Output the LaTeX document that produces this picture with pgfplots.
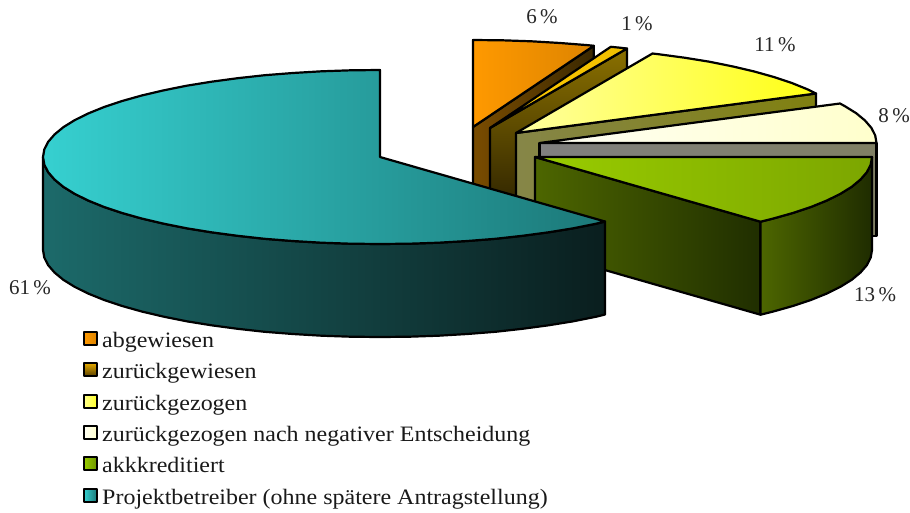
\documentclass[border=0pt]{standalone}
\usepackage{fontspec}
\setmainfont{Liberation Serif}
\usepackage{pgfplots}
\pgfplotsset{compat=1.18}
\tikzset{lab/.style={font=\fontsize{21}{21}\selectfont,text=black!85,inner sep=0pt},
  leg/.style={font=\fontsize{22}{22}\selectfont,anchor=base west,inner sep=0pt,text=black!90,xscale=1.09}}
\begin{document}
\begin{tikzpicture}
\begin{axis}[name=a,width=910pt,height=512pt,scale only axis,xmin=0,xmax=910,ymin=0,ymax=512,y dir=reverse,hide axis,clip=false,
  every axis plot/.append style={line width=2.2pt,line join=round,draw=black}]
% orange
\addplot[left color={rgb,255:red,122;green,76;blue,0},right color={rgb,255:red,58;green,40;blue,0}] coordinates {(473,127)(593.8,45.8)(593.8,138.8)(473,220)} --cycle;
\addplot[left color={rgb,255:red,255;green,153;blue,0},right color={rgb,255:red,221;green,132;blue,0}] coordinates {(473,127)(473,40)(502.4,40.3)(531.5,41.3)(560.2,43)(588.3,45.2)(593.8,45.8)} --cycle;
% 1 percent
\addplot[top color={rgb,255:red,138;green,112;blue,0},bottom color={rgb,255:red,40;green,30;blue,0}] coordinates {(490,128)(627,48.5)(627,141.5)(490,221)} --cycle;
\addplot[left color={rgb,255:red,255;green,204;blue,0},right color={rgb,255:red,240;green,190;blue,0}] coordinates {(490,128)(610.8,46.8)(619,47.6)(627,48.5)} --cycle;
% yellow
\addplot[left color={rgb,255:red,134;green,134;blue,72},right color={rgb,255:red,128;green,128;blue,16}] coordinates {(516,133)(816,93.5)(816,186.5)(516,226)} --cycle;
\addplot[left color={rgb,255:red,255;green,255;blue,160},right color={rgb,255:red,255;green,255;blue,20}] coordinates {(516,133)(816,93.5)(807.9,89.5)(792.1,83.1)(774.2,77.1)(754.3,71.5)(732.6,66.4)(709.3,61.7)(684.5,57.7)(658.4,54.2)(652.5,53.5)} --cycle;
% cream
\addplot[left color={rgb,255:red,128;green,128;blue,128},right color={rgb,255:red,128;green,128;blue,100}] coordinates {(539.5,143)(876.5,143)(876.5,236)(539.5,236)} --cycle;
\addplot[left color={rgb,255:red,255;green,255;blue,245},right color={rgb,255:red,255;green,255;blue,204}] coordinates {(539.5,143)(876.5,143)(875.2,135.4)(871.4,127.9)(865,120.5)(856.2,113.2)(844.9,106.2)(840,103.5)} --cycle;
% green
\addplot[left color={rgb,255:red,77;green,102;blue,0},right color={rgb,255:red,32;green,46;blue,0}] coordinates {(535,157)(760.5,221.7)(760.5,314.7)(535,250)} --cycle;
\addplot[left color={rgb,255:red,77;green,102;blue,0},right color={rgb,255:red,31;green,44;blue,0}] coordinates {(872,157)(870.7,164.6)(866.9,172.1)(860.5,179.5)(851.7,186.8)(840.4,193.8)(826.9,200.5)(811.1,206.9)(793.2,212.9)(773.3,218.5)(760.5,221.7)(760.5,314.7)(773.3,311.5)(793.2,305.9)(811.1,299.9)(826.9,293.5)(840.4,286.8)(851.7,279.8)(860.5,272.5)(866.9,265.1)(870.7,257.6)(872,250)} --cycle;
\addplot[left color={rgb,255:red,153;green,204;blue,0},right color={rgb,255:red,124;green,166;blue,0}] coordinates {(535,157)(872,157)(870.7,164.6)(866.9,172.1)(860.5,179.5)(851.7,186.8)(840.4,193.8)(826.9,200.5)(811.1,206.9)(793.2,212.9)(773.3,218.5)(760.5,221.7)} --cycle;
% blue wall
\addplot[left color={rgb,255:red,28;green,106;blue,106},middle color={rgb,255:red,23;green,80;blue,80},right color={rgb,255:red,10;green,30;blue,30}] coordinates {(43,157)(44.3,164.6)(48.1,172.1)(54.5,179.5)(63.3,186.8)(74.6,193.8)(88.1,200.5)(103.9,206.9)(121.8,212.9)(141.7,218.5)(163.4,223.6)(186.7,228.3)(211.5,232.3)(237.6,235.8)(264.7,238.8)(292.8,241)(321.5,242.7)(350.6,243.7)(380,244)(409.4,243.7)(438.5,242.7)(467.2,241)(495.3,238.8)(522.4,235.8)(548.5,232.3)(573.3,228.3)(596.6,223.6)(605,221.5)(605,314.5)(596.6,316.6)(573.3,321.3)(548.5,325.3)(522.4,328.8)(495.3,331.8)(467.2,334)(438.5,335.7)(409.4,336.7)(380,337)(350.6,336.7)(321.5,335.7)(292.8,334)(264.7,331.8)(237.6,328.8)(211.5,325.3)(186.7,321.3)(163.4,316.6)(141.7,311.5)(121.8,305.9)(103.9,299.9)(88.1,293.5)(74.6,286.8)(63.3,279.8)(54.5,272.5)(48.1,265.1)(44.3,257.6)(43,250)} --cycle;
% blue top
\addplot[left color={rgb,255:red,54;green,208;blue,208},middle color={rgb,255:red,46;green,184;blue,184},right color={rgb,255:red,28;green,120;blue,120}] coordinates {(380,157)(380,70)(350.6,70.3)(321.5,71.3)(292.8,73)(264.7,75.2)(237.6,78.2)(211.5,81.7)(186.7,85.7)(163.4,90.4)(141.7,95.5)(121.8,101.1)(103.9,107.1)(88.1,113.5)(74.6,120.2)(63.3,127.2)(54.5,134.5)(48.1,141.9)(44.3,149.4)(43,157)(44.3,164.6)(48.1,172.1)(54.5,179.5)(63.3,186.8)(74.6,193.8)(88.1,200.5)(103.9,206.9)(121.8,212.9)(141.7,218.5)(163.4,223.6)(186.7,228.3)(211.5,232.3)(237.6,235.8)(264.7,238.8)(292.8,241)(321.5,242.7)(350.6,243.7)(380,244)(409.4,243.7)(438.5,242.7)(467.2,241)(495.3,238.8)(522.4,235.8)(548.5,232.3)(573.3,228.3)(596.6,223.6)(605,221.5)} --cycle;
% swatches
\addplot[line width=2pt,left color={rgb,255:red,255;green,153;blue,0},right color={rgb,255:red,221;green,132;blue,0}] coordinates {(84,332)(97,332)(97,345)(84,345)} --cycle;
\addplot[line width=2pt,top color={rgb,255:red,230;green,170;blue,0},bottom color={rgb,255:red,90;green,65;blue,0}] coordinates {(84,363)(97,363)(97,376)(84,376)} --cycle;
\addplot[line width=2pt,left color={rgb,255:red,255;green,255;blue,140},right color={rgb,255:red,255;green,255;blue,40}] coordinates {(84,395)(97,395)(97,408)(84,408)} --cycle;
\addplot[line width=2pt,left color={rgb,255:red,255;green,255;blue,245},right color={rgb,255:red,255;green,255;blue,204}] coordinates {(84,426)(97,426)(97,439)(84,439)} --cycle;
\addplot[line width=2pt,left color={rgb,255:red,153;green,204;blue,0},right color={rgb,255:red,110;green,150;blue,0}] coordinates {(84,457)(97,457)(97,470)(84,470)} --cycle;
\addplot[line width=2pt,left color={rgb,255:red,54;green,208;blue,208},right color={rgb,255:red,28;green,120;blue,120}] coordinates {(84,489)(97,489)(97,502)(84,502)} --cycle;
% labels
\node[lab] at (axis cs:542,17) {6\,\%};
\node[lab] at (axis cs:637,24) {1\,\%};
\node[lab] at (axis cs:775,45) {11\,\%};
\node[lab] at (axis cs:894,116) {8\,\%};
\node[lab] at (axis cs:875,295) {13\,\%};
\node[lab] at (axis cs:30,288) {61\,\%};
\node[leg] at (axis cs:102,347) {abgewiesen};
\node[leg] at (axis cs:102,378) {zurückgewiesen};
\node[leg] at (axis cs:102,410) {zurückgezogen};
\node[leg] at (axis cs:102,441) {zurückgezogen nach negativer Entscheidung};
\node[leg] at (axis cs:102,472) {akkkreditiert};
\node[leg] at (axis cs:102,504) {Projektbetreiber (ohne spätere Antragstellung)};
\end{axis}
\pgfresetboundingbox
\path[use as bounding box] (a.south west) rectangle (a.north east);
\end{tikzpicture}
\end{document}
